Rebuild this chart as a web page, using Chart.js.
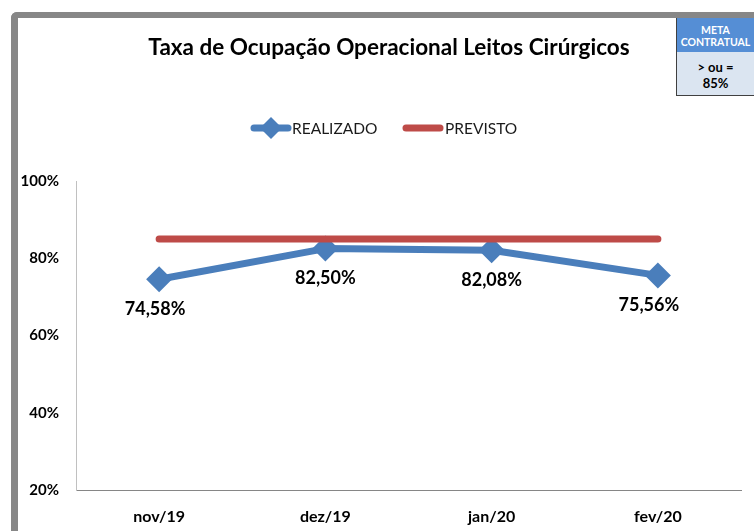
<!DOCTYPE html>
<html>
<head>
<meta charset="utf-8">
<script src="https://cdn.jsdelivr.net/npm/chart.js@4.4.1/dist/chart.umd.min.js"></script>
<style>
  html, body { margin: 0; padding: 0; background: #fff; overflow: hidden; }
  #wrap { position: relative; width: 754px; height: 531px; overflow: hidden; }
  #frame { position: absolute; left: 11px; top: 12px; width: 900px; height: 700px;
           border-left: 7px solid #878787; border-top: 6px solid #878787; border-top-left-radius: 6px; box-sizing: border-box; }
  #meta { position: absolute; left: 676px; top: 18px; width: 78px; height: 78px;
          border-left: 1px solid #404040; border-bottom: 1px solid #404040; box-sizing: border-box;
          font-family: Lato, "Liberation Sans", sans-serif; font-weight: bold; text-align: center; }
  #meta .top { background: #558ed5; color: #fff; height: 34px; font-size: 10.5px; line-height: 12px; padding-top: 6px; box-sizing: border-box; }
  #meta .bot { background: #dbe5f1; color: #000; height: 43px; font-size: 13px; line-height: 16px; padding-top: 7px; box-sizing: border-box; }
  canvas { position: absolute; left: 0; top: 0; }
</style>
</head>
<body>
<div id="wrap">
  <div id="frame"></div>
  <canvas id="c" width="754" height="531"></canvas>
  <div id="meta"><div class="top">META<br>CONTRATUAL</div><div class="bot">&gt; ou =<br>85%</div></div>
</div>
<script>
const chartTitle = 'Taxa de Ocupação Operacional Leitos Cirúrgicos';
const categories = ['nov/19', 'dez/19', 'jan/20', 'fev/20'];
const realizado = [74.58, 82.50, 82.08, 75.56];
const previsto = [85, 85, 85, 85];
const seriesNames = ['REALIZADO', 'PREVISTO'];
const yTicks = [20, 40, 60, 80, 100];

const BLUE = '#4a7ebb';
const RED = '#be4b48';
const FONT = 'Lato, "Liberation Sans", sans-serif';

function fmt(v) { return v.toFixed(2).replace('.', ',') + '%'; }

const overlay = {
  id: 'overlay',
  afterDatasetsDraw(chart) {
    const ctx = chart.ctx;
    const meta = chart.getDatasetMeta(0);
    ctx.save();
    ctx.font = 'bold 18px ' + FONT;
    ctx.fillStyle = '#000';
    ctx.textAlign = 'center';
    ctx.textBaseline = 'middle';
    const dx = [-4, 0, 0, -9];
    meta.data.forEach((pt, i) => {
      ctx.fillText(fmt(realizado[i]), pt.x + dx[i], pt.y + 30);
    });
    ctx.restore();
  },
  afterDraw(chart) {
    const ctx = chart.ctx;
    ctx.save();
    // title
    ctx.font = 'bold 22.5px ' + FONT;
    ctx.fillStyle = '#000';
    ctx.textAlign = 'center';
    ctx.textBaseline = 'middle';
    ctx.fillText(chartTitle, 389, 48);
    // legend
    const ly = 128;
    ctx.lineCap = 'round';
    ctx.lineWidth = 7;
    ctx.strokeStyle = BLUE;
    ctx.beginPath(); ctx.moveTo(254, ly); ctx.lineTo(288, ly); ctx.stroke();
    ctx.fillStyle = BLUE;
    ctx.beginPath();
    ctx.moveTo(271, ly - 11); ctx.lineTo(282, ly); ctx.lineTo(271, ly + 11); ctx.lineTo(260, ly);
    ctx.closePath(); ctx.fill();
    ctx.strokeStyle = RED;
    ctx.beginPath(); ctx.moveTo(406, ly); ctx.lineTo(440, ly); ctx.stroke();
    ctx.beginPath(); ctx.rect(0, 100, 754, 34); ctx.clip();
    ctx.font = '15.5px ' + FONT;
    ctx.fillStyle = '#1a1a1a';
    ctx.textAlign = 'left';
    ctx.textBaseline = 'alphabetic';
    ctx.fillText(seriesNames[0], 292, 133.5);
    ctx.fillText(seriesNames[1], 445, 133.5);
    ctx.restore();
  }
};

new Chart(document.getElementById('c'), {
  type: 'line',
  data: {
    labels: categories,
    datasets: [
      {
        label: seriesNames[0],
        data: realizado,
        borderColor: BLUE,
        backgroundColor: BLUE,
        borderWidth: 7,
        borderCapStyle: 'round',
        borderJoinStyle: 'round',
        pointStyle: 'rectRot',
        pointRadius: 13,
        pointBorderWidth: 0,
        pointBackgroundColor: BLUE,
        tension: 0,
        order: 1
      },
      {
        label: seriesNames[1],
        data: previsto,
        borderColor: RED,
        backgroundColor: RED,
        borderWidth: 7,
        borderCapStyle: 'round',
        pointRadius: 0,
        tension: 0,
        order: 0
      }
    ]
  },
  options: {
    responsive: false,
    animation: false,
    layout: { padding: { left: 0, right: 8, top: 181, bottom: 0 } },
    plugins: {
      legend: { display: false },
      tooltip: { enabled: false },
      title: { display: false }
    },
    scales: {
      x: {
        offset: true,
        afterFit(scale) { scale.height = 41; },
        grid: { display: false, drawTicks: false },
        border: { display: true, color: '#868686', width: 1 },
        ticks: { color: '#000', font: { family: FONT, size: 16, weight: 'bold' }, padding: 17 }
      },
      y: {
        min: 20, max: 100,
        afterBuildTicks(scale) { scale.ticks = yTicks.map(v => ({ value: v })); },
        afterFit(scale) { scale.width = 76; },
        grid: { display: false, drawTicks: false },
        border: { display: true, color: '#c0c0c0', width: 1 },
        ticks: { color: '#000', font: { family: FONT, size: 15, weight: 'bold' }, padding: 17,
                 callback: v => v + '%' }
      }
    }
  },
  plugins: [overlay]
});
</script>
</body>
</html>
